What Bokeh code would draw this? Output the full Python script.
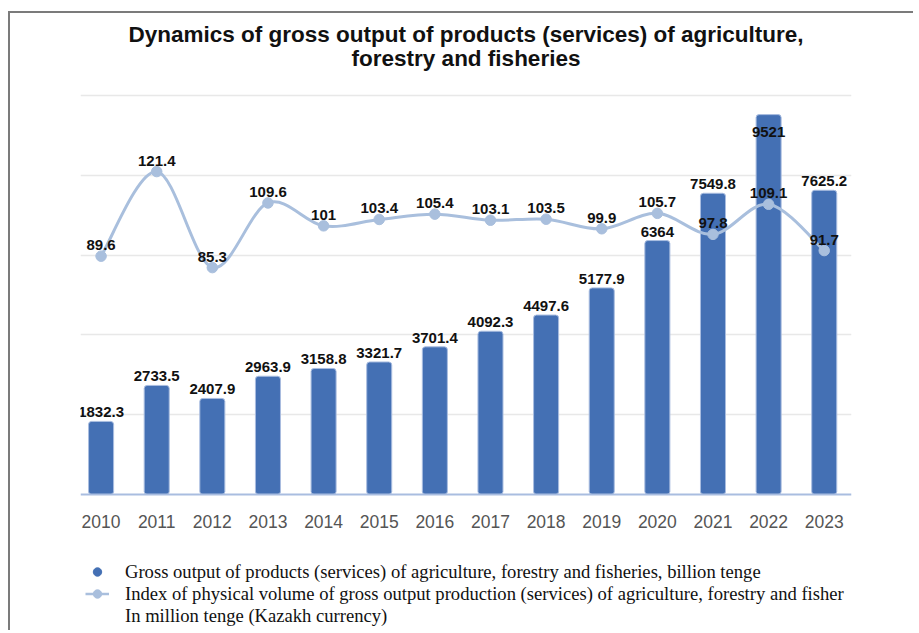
from bokeh.plotting import figure
from bokeh.models import ColumnDataSource, Range1d, FixedTicker, Legend, LegendItem, Title
from bokeh.core.properties import value
from bokeh.embed import file_html
from bokeh.resources import INLINE

# ---- data -------------------------------------------------------------
years = ["2010", "2011", "2012", "2013", "2014", "2015", "2016",
         "2017", "2018", "2019", "2020", "2021", "2022", "2023"]
gross_output = [1832.3, 2733.5, 2407.9, 2963.9, 3158.8, 3321.7, 3701.4,
                4092.3, 4497.6, 5177.9, 6364, 7549.8, 9521, 7625.2]
volume_index = [89.6, 121.4, 85.3, 109.6, 101, 103.4, 105.4,
                103.1, 103.5, 99.9, 105.7, 97.8, 109.1, 91.7]
grid_ticks = [2000, 4000, 6000, 8000, 10000]

title_lines = ["Dynamics of gross output of products (services) of agriculture,",
               "forestry and fisheries"]
legend_labels = [
    "Gross output of products (services) of agriculture, forestry and fisheries, billion tenge",
    "Index of physical volume of gross output production (services) of agriculture, forestry and fisher",
    "In million tenge (Kazakh currency)",
]

# ---- styles / layout -----------------------------------------------------
BAR = "#4470b4"
BAR_EDGE = "#a9bde0"
LINE = "#a9bfdd"
Y_MAX = 10000
IDX_MAX = 150
W, H = 905, 619
TOP_PX = 78          # frame top (a little above the top gridline)
ZERO_PX = 481        # zero line position from canvas top
PLOT_PX = 399        # pixels from zero line to Y_MAX
y_hi = Y_MAX * (ZERO_PX - TOP_PX) / PLOT_PX
y_lo = -Y_MAX * (H - ZERO_PX) / PLOT_PX
idx_hi = IDX_MAX * (ZERO_PX - TOP_PX) / PLOT_PX
idx_lo = -IDX_MAX * (H - ZERO_PX) / PLOT_PX
NAN = float("nan")

xs = list(range(len(years)))
fmt = lambda v: f"{v:g}"

p = figure(width=W, height=H, output_backend="svg", toolbar_location=None,
           x_range=Range1d(-0.37, 13.49), y_range=Range1d(y_lo, y_hi),
           min_border_left=70, min_border_right=64, min_border_top=TOP_PX,
           min_border_bottom=0)
p.extra_y_ranges = {"idx": Range1d(idx_lo, idx_hi)}
p.styles = {"margin-left": "8px", "margin-top": "11px",
            "border-left": "2px solid #7b7b7b", "border-top": "2px solid #7b7b7b"}

# two centred title lines (first added sits closest to the frame)
for txt, so in [(title_lines[1], 42), (title_lines[0], -49)]:
    p.add_layout(Title(text=txt, align="center", text_font="Liberation Sans",
                       text_font_style="bold", text_font_size="22.5px",
                       text_color="#111111", standoff=so), "above")

p.outline_line_color = None
p.background_fill_color = "white"
p.border_fill_color = "white"

# grid / axes
p.xgrid.visible = False
p.ygrid.ticker = FixedTicker(ticks=grid_ticks)
p.ygrid.grid_line_color = "#e8e8e8"
p.ygrid.grid_line_width = 1.5
p.yaxis.visible = False

p.xaxis.fixed_location = 0
p.xaxis.ticker = FixedTicker(ticks=xs)
p.xaxis.major_label_overrides = {i: y for i, y in zip(xs, years)}
p.xaxis.axis_line_color = BAR_EDGE
p.xaxis.axis_line_width = 2
p.xaxis.major_tick_line_color = None
p.xaxis.minor_tick_line_color = None
p.xaxis.major_label_text_font = "Liberation Sans"
p.xaxis.major_label_text_font_size = "17.5px"
p.xaxis.major_label_text_color = "#555555"
p.xaxis.major_label_standoff = 14

# bars
bar_src = ColumnDataSource(dict(x=xs, top=gross_output))
p.vbar(x="x", top="top", bottom=0, width=0.45, source=bar_src, fill_color=BAR,
       line_color=BAR_EDGE, line_width=1, border_radius=3)

# smooth index line via cubic bezier segments (Catmull-Rom control points)
n = len(volume_index)
def pt(i):
    i = max(0, min(n - 1, i))
    return xs[i], volume_index[i]
seg = dict(x0=[], y0=[], x1=[], y1=[], cx0=[], cy0=[], cx1=[], cy1=[])
for i in range(n - 1):
    xa, ya = pt(i)
    xb, yb = pt(i + 1)
    xp, yp = pt(i - 1)
    xn, yn = pt(i + 2)
    seg["x0"].append(xa); seg["y0"].append(ya)
    seg["x1"].append(xb); seg["y1"].append(yb)
    seg["cx0"].append(xa + (xb - xp) / 6); seg["cy0"].append(ya + (yb - yp) / 6)
    seg["cx1"].append(xb - (xn - xa) / 6); seg["cy1"].append(yb - (yn - ya) / 6)
p.bezier(x0="x0", y0="y0", x1="x1", y1="y1", cx0="cx0", cy0="cy0",
         cx1="cx1", cy1="cy1", source=ColumnDataSource(seg),
         line_color=LINE, line_width=3, y_range_name="idx")
idx_src = ColumnDataSource(dict(x=xs, y=volume_index, t=[fmt(v) for v in volume_index]))
p.scatter(x="x", y="y", source=idx_src, size=10.5, marker="circle",
          fill_color=LINE, line_color=LINE, y_range_name="idx")

# labels
label_kw = dict(text_font=value("Liberation Sans"), text_font_style="bold",
                text_font_size="15px", text_align="center", text_color="#111111")
inside = [v > 0.93 * Y_MAX for v in gross_output]
out_src = ColumnDataSource(dict(
    x=[x for x, f in zip(xs, inside) if not f],
    y=[v for v, f in zip(gross_output, inside) if not f],
    t=[fmt(v) for v, f in zip(gross_output, inside) if not f]))
in_src = ColumnDataSource(dict(
    x=[x for x, f in zip(xs, inside) if f],
    y=[v for v, f in zip(gross_output, inside) if f],
    t=[fmt(v) for v, f in zip(gross_output, inside) if f]))
p.text(x="x", y="y", text="t", source=out_src, text_baseline="bottom",
       y_offset=-4, **label_kw)
p.text(x="x", y="y", text="t", source=in_src, text_baseline="middle",
       y_offset=17, **label_kw)
p.text(x="x", y="y", text="t", source=idx_src, text_baseline="bottom",
       y_offset=-6, y_range_name="idx", **label_kw)

# legend glyph renderers (hold no drawable points; only give the legend its swatches)
r1 = p.scatter(x=[NAN], y=[NAN], marker="circle", size=10, fill_color=BAR, line_color=BAR)
r2a = p.line(x=[NAN, NAN], y=[NAN, NAN], line_color=LINE, line_width=2.5)
r2b = p.scatter(x=[NAN], y=[NAN], marker="circle", size=7, fill_color=LINE, line_color=LINE)
r3 = p.scatter(x=[NAN], y=[NAN], marker="circle", size=1, alpha=0)
legend = Legend(items=[LegendItem(label=legend_labels[0], renderers=[r1]),
                       LegendItem(label=legend_labels[1], renderers=[r2a, r2b]),
                       LegendItem(label=legend_labels[2], renderers=[r3])],
                location=(5, 5.5), orientation="vertical",
                label_text_font="Liberation Serif", label_text_font_size="18.6px",
                label_text_color="#111111",
                glyph_width=24, glyph_height=21, label_height=21,
                label_standoff=16, spacing=0, padding=0, margin=0,
                border_line_alpha=0, background_fill_alpha=0)
p.add_layout(legend)

open("out.html", "w").write(file_html(p, INLINE))
